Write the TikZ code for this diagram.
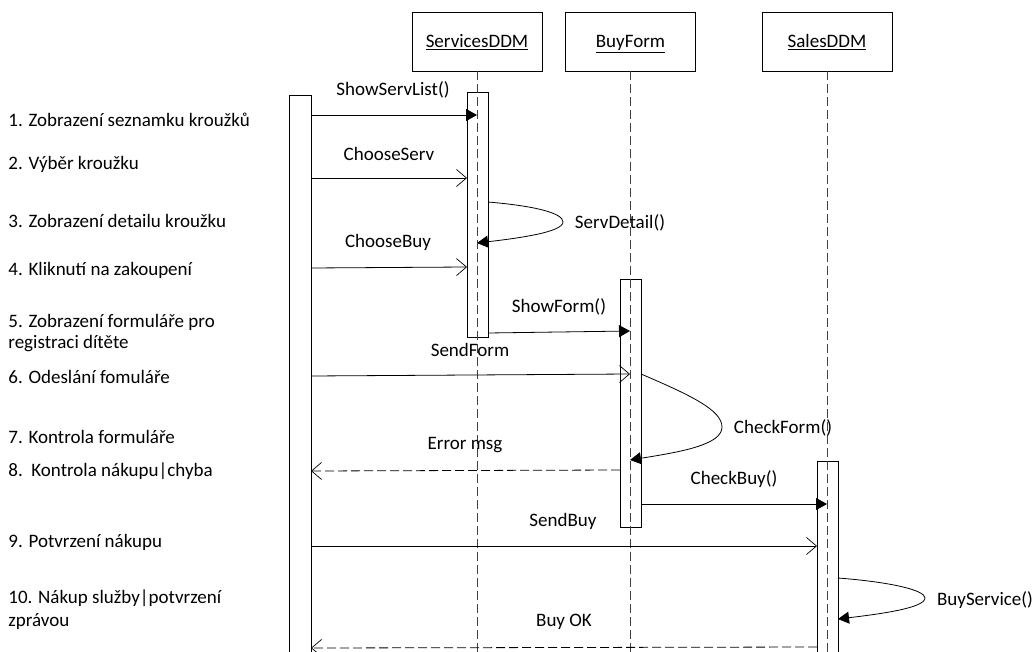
\documentclass[tikz,border=0pt]{standalone}
\usepackage{fontspec}
\setmainfont{Carlito}
\usetikzlibrary{arrows.meta}

\begin{document}
\begin{tikzpicture}[x=1pt, y=-1pt, line width=0.8pt,
  every node/.style={font=\fontsize{19}{23}\selectfont, inner sep=0pt},
  objbox/.style={draw, minimum width=130pt, minimum height=59pt,
                 text height=14pt, text depth=2pt},
  lifeline/.style={draw=black!75, dash pattern=on 9pt off 4pt},
  bar/.style={draw, fill=white, minimum width=21pt},
  call/.style={-{Triangle[length=11pt,width=12pt]}},
  signal/.style={-{Straight Barb[length=10pt,width=17pt,line width=0.7pt]}},
  reply/.style={signal, dash pattern=on 9pt off 4pt},
  msglabel/.style={anchor=center},
  steplabel/.style={anchor=base west}]

\useasboundingbox (0,0) rectangle (1035,652);

% objects
\node[objbox] (sdm) at (477,41.5) {\underline{ServicesDDM}};
\node[objbox] (bf)  at (630.5,41.5) {\underline{BuyForm}};
\node[objbox] (sal) at (827,41.5) {\underline{SalesDDM}};

% activation bars
\node[bar, minimum width=22pt, minimum height=570pt] (act) at (300,380) {};
\node[bar, minimum height=245pt] (asdm) at (477.5,214.5) {};
\node[bar, minimum height=248pt] (abf)  at (630.5,403) {};
\node[bar, minimum height=200pt] (asal) at (827.5,561) {};

% lifelines
\coordinate (sdmEnd) at (477,652);
\coordinate (bfEnd)  at (630.5,652);
\coordinate (salEnd) at (827,652);
\draw[lifeline] (sdm.south) -- (sdmEnd);
\draw[lifeline] (bf.south)  -- (bfEnd);
\draw[lifeline] (sal.south) -- (salEnd);

% message end points
\coordinate (m1a) at (311,115);   \coordinate (m1b) at (477,115);
\coordinate (m2a) at (311,178);   \coordinate (m2b) at (467,178);
\coordinate (m3a) at (488,202);   \coordinate (m3c) at (563,222);   \coordinate (m3b) at (477,243);
\coordinate (m4a) at (311,268);   \coordinate (m4b) at (467,267);
\coordinate (m5a) at (488,333);   \coordinate (m5b) at (630,331);
\coordinate (m6a) at (311,376);   \coordinate (m6b) at (630,374);
\coordinate (m7a) at (641,374);   \coordinate (m7c) at (722,427);   \coordinate (m7b) at (630,460);
\coordinate (m8a) at (620,470);   \coordinate (m8b) at (311,471);
\coordinate (m9a) at (641,504);   \coordinate (m9b) at (827,504);
\coordinate (m10a) at (311,546);  \coordinate (m10b) at (817,546);
\coordinate (m11a) at (838,578);  \coordinate (m11c) at (925,598);  \coordinate (m11b) at (838,619);
\coordinate (m12a) at (817,647);  \coordinate (m12b) at (311,648);

% messages
\draw[call]   (m1a) -- (m1b);
\draw[signal] (m2a) -- (m2b);
\draw[call]   (m3a) .. controls (535,206) and (563,213) .. (m3c)
                    .. controls (563,232) and (520,238) .. (m3b);
\draw[signal] (m4a) -- (m4b);
\draw[call]   (m5a) -- (m5b);
\draw[signal] (m6a) -- (m6b);
\draw[call]   (m7a) .. controls (690,395) and (722,410) .. (m7c)
                    .. controls (722,445) and (680,452) .. (m7b);
\draw[reply]  (m8a) -- (m8b);
\draw[call]   (m9a) -- (m9b);
\draw[signal] (m10a) -- (m10b);
\draw[call]   (m11a) .. controls (890,582) and (925,590) .. (m11c)
                     .. controls (925,608) and (880,614) .. (m11b);
\draw[reply]  (m12a) -- (m12b);

% message labels
\node[msglabel] (l1)  at (393,90)  {ShowServList()};
\node[msglabel] (l2)  at (389,154) {ChooseServ};
\node[msglabel] (l3)  at (620,223) {ServDetail()};
\node[msglabel] (l4)  at (388,242) {ChooseBuy};
\node[msglabel] (l5)  at (559,307) {ShowForm()};
\node[msglabel] (l6)  at (470,350) {SendForm};
\node[msglabel] (l7)  at (783,428) {CheckForm()};
\node[msglabel] (l8)  at (465,445) {Error msg};
\node[msglabel] (l9)  at (734,479) {CheckBuy()};
\node[msglabel] (l10) at (563,521) {SendBuy};
\node[msglabel] (l11) at (985,600) {BuyService()};
\node[msglabel] (l12) at (564,622) {Buy OK};

% step descriptions
\node[steplabel] (s1)  at (8,127) {1. Zobrazení seznamku kroužků};
\node[steplabel] (s2)  at (8,170) {2. Výběr kroužku};
\node[steplabel] (s3)  at (8,228) {3. Zobrazení detailu kroužku};
\node[steplabel] (s4)  at (8,275) {4. Kliknutí na zakoupení};
\node[steplabel] (s5)  at (8,327) {5. Zobrazení formuláře pro};
\node[steplabel] (s5b) at (8,348) {registraci dítěte};
\node[steplabel] (s6)  at (8,383) {6. Odeslání fomuláře};
\node[steplabel] (s7)  at (8,443) {7. Kontrola formuláře};
\node[steplabel] (s8)  at (8,476) {8.\ \ Kontrola nákupu|chyba};
\node[steplabel] (s9)  at (8,547) {9. Potvrzení nákupu};
\node[steplabel] (s10) at (8,603) {10. Nákup služby|potvrzení};
\node[steplabel] (s10b) at (8,626) {zprávou};
\end{tikzpicture}
\end{document}
